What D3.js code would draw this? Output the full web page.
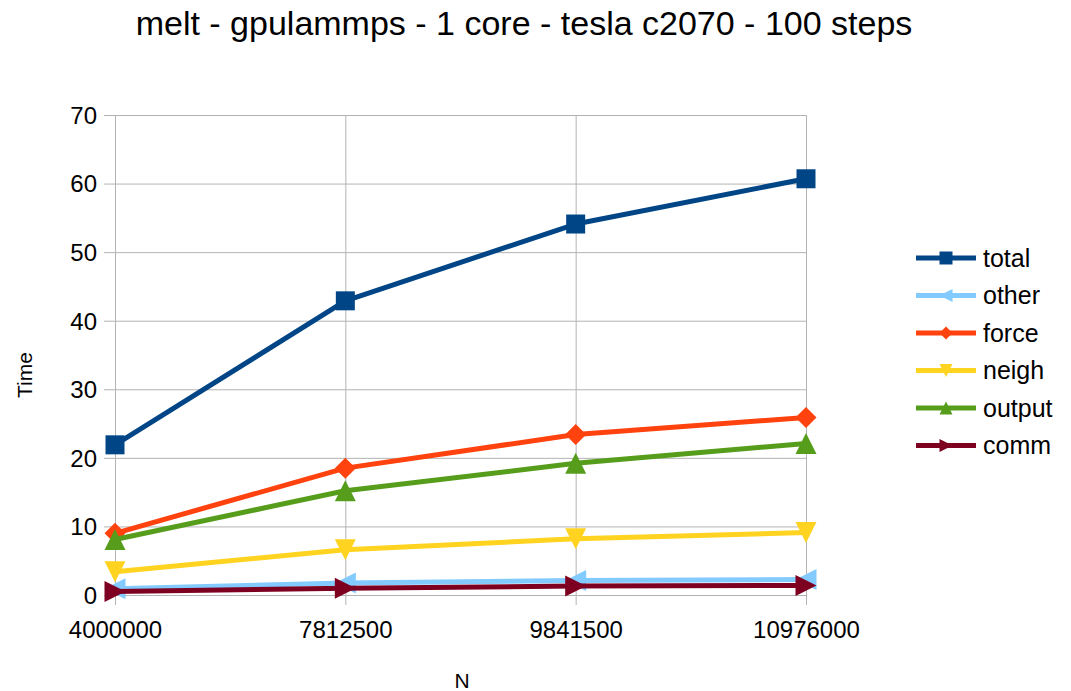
<!DOCTYPE html>
<html>
<head>
<meta charset="utf-8">
<script src="https://cdn.jsdelivr.net/npm/d3@7"></script>
<style>
  html, body { margin: 0; padding: 0; background: #fff; }
  svg { display: block; font-family: "Liberation Sans", Arial, sans-serif; }
</style>
</head>
<body>
<svg id="chart" width="1071" height="691"></svg>
<script>
// Problem sizes (x categories)
const categories = ["4000000", "7812500", "9841500", "10976000"];

// Timings per phase, one value per problem size
const total  = [21.9, 42.9, 54.1, 60.7];
const other  = [0.9, 1.75, 2.1, 2.25];
const force  = [9.0, 18.5, 23.4, 25.9];
const neigh  = [3.4, 6.6, 8.2, 9.1];
const output = [8.1, 15.2, 19.2, 22.1];
const comm   = [0.5, 1.0, 1.3, 1.4];

const yTicks = [0, 10, 20, 30, 40, 50, 60, 70];

const seriesNames = ["total", "other", "force", "neigh", "output", "comm"];
const seriesValues = [total, other, force, neigh, output, comm];
const seriesColors = ["#004586", "#83caff", "#ff420e", "#ffd320", "#579d1c", "#7e0021"];
const seriesShapes = ["square", "left", "diamond", "down", "up", "right"];

const svg = d3.select("#chart");

const plot = { left: 115, right: 806, top: 115, bottom: 595 };

const x = d3.scalePoint().domain(categories).range([plot.left, plot.right]);
const y = d3.scaleLinear().domain([0, 70]).range([plot.bottom, plot.top]);

const gridColor = "#b3b3b3";

// Horizontal gridlines with short ticks to the left
const yAxis = d3.axisLeft(y)
  .tickValues(yTicks)
  .tickSize(plot.right - plot.left + 11)
  .tickPadding(7)
  .tickFormat(d3.format("d"));
const gy = svg.append("g")
  .attr("transform", `translate(${plot.right},0)`)
  .call(yAxis);
gy.select(".domain").remove();
gy.selectAll(".tick line").attr("stroke", gridColor).attr("stroke-width", 1);
gy.selectAll(".tick text")
  .attr("font-size", 24)
  .attr("fill", "#000")
  .attr("dy", "0.35em");

// Vertical gridlines at each category, extending below the axis as ticks
const xAxis = d3.axisBottom(x)
  .tickSize(-(plot.bottom - plot.top))
  .tickPadding(0);
const gx = svg.append("g")
  .attr("transform", `translate(0,${plot.bottom})`)
  .call(xAxis);
gx.select(".domain").remove();
gx.selectAll(".tick line")
  .attr("y1", 10)
  .attr("stroke", gridColor)
  .attr("stroke-width", 1);
gx.selectAll(".tick text")
  .attr("font-size", 24)
  .attr("fill", "#000")
  .attr("y", 43)
  .attr("dy", 0);

// Marker shapes
function markerPath(shape, s) {
  const h = s / 2;
  switch (shape) {
    case "square":  return `M${-h},${-h}H${h}V${h}H${-h}Z`;
    case "diamond": return `M0,${-h}L${h},0L0,${h}L${-h},0Z`;
    case "up":      return `M0,${-h}L${h},${h}L${-h},${h}Z`;
    case "down":    return `M${-h},${-h}L${h},${-h}L0,${h}Z`;
    case "left":    return `M${-h},0L${h},${-h}L${h},${h}Z`;
    case "right":   return `M${-h},${-h}L${h},0L${-h},${h}Z`;
  }
}

const line = d3.line()
  .x((d, i) => x(categories[i]))
  .y(d => y(d));

const seriesG = svg.append("g");
seriesNames.forEach((name, si) => {
  const g = seriesG.append("g");
  g.append("path")
    .datum(seriesValues[si])
    .attr("d", line)
    .attr("fill", "none")
    .attr("stroke", seriesColors[si])
    .attr("stroke-width", 5)
    .attr("stroke-linejoin", "round");
  g.selectAll("path.marker")
    .data(seriesValues[si])
    .join("path")
    .attr("class", "marker")
    .attr("transform", (d, i) => `translate(${x(categories[i])},${y(d)})`)
    .attr("d", markerPath(seriesShapes[si], seriesShapes[si] === "square" ? 19 : 21))
    .attr("fill", seriesColors[si]);
});

// Legend
const legend = svg.append("g").attr("transform", "translate(916,258)");
seriesNames.forEach((name, si) => {
  const row = legend.append("g").attr("transform", `translate(0,${si * 37.5})`);
  row.append("line")
    .attr("x1", 0).attr("x2", 60)
    .attr("stroke", seriesColors[si])
    .attr("stroke-width", 5);
  row.append("path")
    .attr("transform", "translate(30,0)")
    .attr("d", markerPath(seriesShapes[si], 13))
    .attr("fill", seriesColors[si]);
  row.append("text")
    .attr("x", 67)
    .attr("dy", "0.35em")
    .attr("font-size", 25)
    .text(name);
});

// Title and axis titles
svg.append("text")
  .attr("x", 524).attr("y", 35)
  .attr("text-anchor", "middle")
  .attr("font-size", 34)
  .text("melt - gpulammps - 1 core - tesla c2070 - 100 steps");

svg.append("text")
  .attr("x", 462).attr("y", 688)
  .attr("text-anchor", "middle")
  .attr("font-size", 21)
  .text("N");

svg.append("text")
  .attr("transform", "translate(32,375) rotate(-90)")
  .attr("text-anchor", "middle")
  .attr("font-size", 21)
  .text("Time");
</script>
</body>
</html>
